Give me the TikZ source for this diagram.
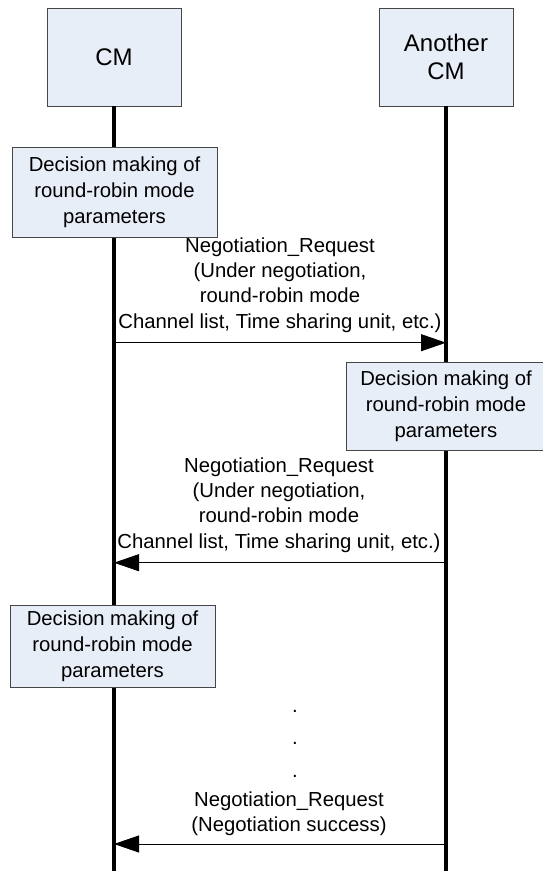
\documentclass[tikz,border=0pt]{standalone}
\usepackage{fontspec}
\setmainfont{Liberation Sans}
\usetikzlibrary{arrows.meta}
\definecolor{boxfill}{RGB}{232,238,248}
\definecolor{boxline}{RGB}{70,70,70}

\begin{document}
\begin{tikzpicture}[x=1pt, y=-1pt,
    entity/.style = {draw=boxline, fill=boxfill, line width=0.9pt, minimum width=134pt,
      minimum height=98pt, align=center, inner sep=0pt, font=\fontsize{24}{27.5}\selectfont},
    decision/.style = {draw=boxline, fill=boxfill, line width=0.9pt, minimum width=205pt,
      align=center, inner sep=0pt, font=\fontsize{20.3}{26}\selectfont},
    life/.style = {line width=4pt},
    msg/.style = {line width=0.8pt, -{Triangle[length=25pt, width=17pt]}},
    msglabel/.style = {align=center, inner sep=0pt, font=\fontsize{20.3}{25.3}\selectfont}]
    \useasboundingbox (0,0) rectangle (542,871);

    % the two entities and their lifelines
    \node [entity] (cm) at (114,57) {CM};
    \node [entity] (other) at (446,57) {Another\\CM};
    \coordinate (cmend) at (114,871);
    \coordinate (otherend) at (446,871);
    \draw [life] (cm.south) -- (cmend);
    \draw [life] (other.south) -- (otherend);

    % decisions
    \node [decision, minimum height=90pt] (dec1) at (114.5,192)
      {Decision making of\\round-robin mode\\parameters};
    \node [decision, minimum height=88pt, minimum width=200pt] (dec2) at (446,406)
      {Decision making of\\round-robin mode\\parameters};
    \node [decision, minimum height=82pt] (dec3) at (112.5,646)
      {Decision making of\\round-robin mode\\parameters};

    % messages
    \coordinate (req1a) at (114,342.7);
    \coordinate (req1b) at (446,342.7);
    \draw [msg] (req1a) -- (req1b);
    \node [msglabel] (lab1) at (280,285)
      {Negotiation\_Request\\(Under negotiation,\\round-robin mode\\Channel list, Time sharing unit, etc.)};

    \coordinate (req2a) at (446,562.7);
    \coordinate (req2b) at (114,562.7);
    \draw [msg] (req2a) -- (req2b);
    \node [msglabel] (lab2) at (279,505)
      {Negotiation\_Request\\(Under negotiation,\\round-robin mode\\Channel list, Time sharing unit, etc.)};

    \foreach \y [count=\i] in {712,744,777}
      \node [anchor=base, inner sep=0pt, font=\fontsize{20.3}{25}\selectfont] (dot\i) at (295,\y) {.};

    \coordinate (req3a) at (446,844);
    \coordinate (req3b) at (114,844);
    \draw [msg] (req3a) -- (req3b);
    \node [msglabel] (lab3) at (289,814)
      {Negotiation\_Request\\(Negotiation success)};
\end{tikzpicture}
\end{document}
